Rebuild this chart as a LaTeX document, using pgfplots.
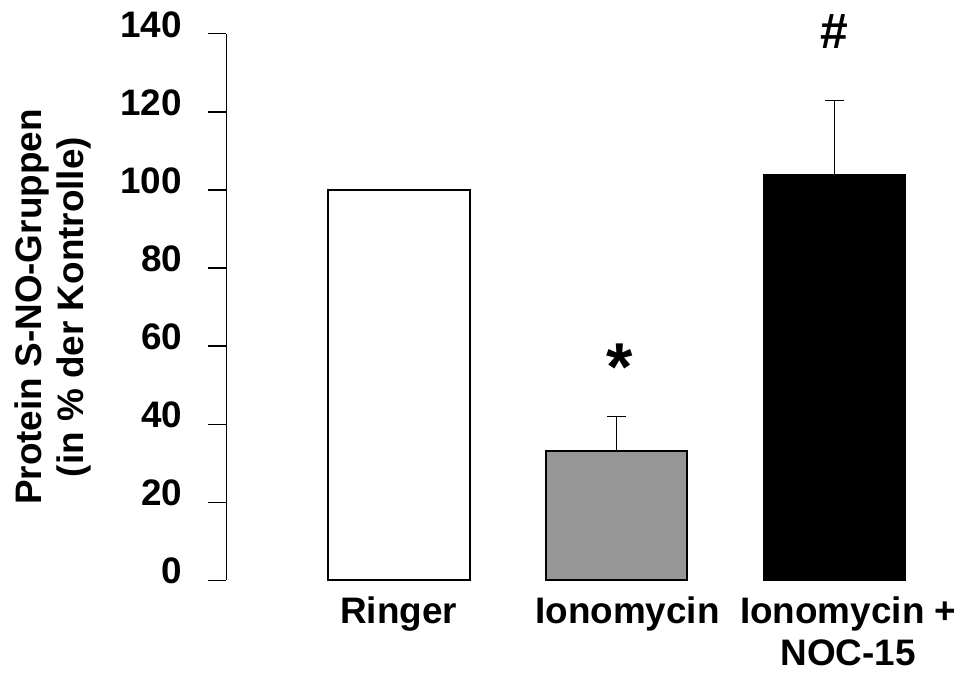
\documentclass[border=0pt]{standalone}
\usepackage{fontspec}
\setmainfont{Liberation Sans}
\usepackage{pgfplots}
\pgfplotsset{compat=1.18}
\begin{document}
\begin{tikzpicture}
\begin{axis}[
  scale only axis, width=359.5pt, height=274pt,
  xmin=-0.792, xmax=2.5, ymin=0, ymax=140,
  axis y line*=left, axis x line*=bottom,
  x axis line style={draw=none},
  y axis line style={-, line width=0.6pt, black},
  xtick={0,1,2},
  xticklabels={Ringer, \hspace*{11pt}Ionomycin, \hspace*{14pt}Ionomycin +\\\hspace*{14pt}NOC-15},
  x tick style={draw=none},
  ytick={0,20,...,140},
  y tick style={line width=0.6pt, black},
  tick align=outside, major tick length=9pt,
  /pgf/number format/assume math mode=true,
  tick label style={font=\fontsize{18.5}{21}\selectfont\bfseries},
  yticklabel style={inner sep=0pt, xshift=-13pt, yshift=4.5pt},
  xticklabel style={align=center, yshift=4pt},
  ylabel={Protein S-NO-Gruppen\\(in \% der Kontrolle)},
  ylabel style={align=center, font=\fontsize{18.5}{21}\selectfont\bfseries, at={(axis description cs:-0.188,0.5)}, anchor=south, inner sep=0pt},
  clip=false,
  ybar, bar width=0.65, bar shift=0pt,
]
\addplot[fill=white, draw=black, line width=1pt] coordinates {(0,100)};
\addplot[fill={rgb,255:red,150;green,150;blue,150}, draw=black, line width=1pt,
  error bars/.cd, y dir=plus, y explicit,
  error bar style={line width=0.7pt, black},
  error mark options={rotate=90, mark size=4.75pt, line width=0.7pt, black}]
  coordinates {(1,33.2) +- (0,8.7)};
\addplot[fill=black, draw=black, line width=0.5pt,
  error bars/.cd, y dir=plus, y explicit,
  error bar style={line width=0.7pt, black},
  error mark options={rotate=90, mark size=4.75pt, line width=0.7pt, black}]
  coordinates {(2,104) +- (0,19)};
\node[anchor=base, font=\fontsize{34}{34}\selectfont\bfseries, inner sep=0pt] at (axis cs:1.016,48.7) {*};
\node[anchor=base, font=\fontsize{25}{25}\selectfont\bfseries, inner sep=0pt] at (axis cs:2,136.2) {\#};
\path (rel axis cs:-0.3157,-0.1624) rectangle (rel axis cs:1.0236,1.062);
\end{axis}
\end{tikzpicture}
\end{document}
